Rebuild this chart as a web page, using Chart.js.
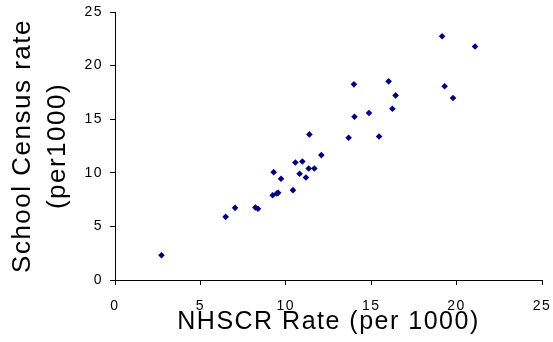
<!DOCTYPE html>
<html>
<head>
<meta charset="utf-8">
<script src="https://cdn.jsdelivr.net/npm/chart.js@4"></script>
<style>
  html, body { margin: 0; padding: 0; background: #ffffff; overflow: hidden; }
  #wrap { width: 553px; height: 342px; }
  canvas { display: block; }
</style>
</head>
<body>
<div id="wrap"><canvas id="c" width="553" height="342"></canvas></div>
<script>
const xValues = [2.72, 6.48, 7.03, 8.22, 8.37, 9.23, 9.47, 9.55, 9.29, 9.72,
                 10.42, 10.56, 10.81, 10.97, 11.18, 11.38, 11.34, 11.67, 12.08,
                 13.68, 13.99, 14.02, 14.87, 15.46, 16.02, 16.24, 16.43,
                 19.15, 19.30, 19.79, 21.08];
const yValues = [2.31, 5.89, 6.73, 6.76, 6.64, 7.91, 8.07, 8.13, 10.06, 9.44,
                 8.38, 10.96, 9.91, 11.06, 9.56, 13.58, 10.40, 10.40, 11.65,
                 13.27, 18.25, 15.23, 15.58, 13.39, 18.53, 15.98, 17.22,
                 22.74, 18.07, 16.98, 21.78];
const xTicks = [0, 5, 10, 15, 20, 25];
const yTicks = [0, 5, 10, 15, 20, 25];
const xTitle = 'NHSCR Rate (per 1000)';
const yTitle = ['School Census rate', '(per1000)'];

const points = xValues.map((x, i) => ({ x: x, y: yValues[i] }));
const FONT = 'Arial, "Liberation Sans", sans-serif';

const spacingPlugin = {
  id: 'spacing',
  beforeDraw(chart) { chart.ctx.letterSpacing = '1.5px'; }
};

function zeroPad(s) {
  s.paddingTop = 0; s.paddingBottom = 0; s.paddingLeft = 0; s.paddingRight = 0;
}

new Chart(document.getElementById('c'), {
  type: 'scatter',
  data: {
    datasets: [{
      data: points,
      pointStyle: 'rectRot',
      pointRadius: 3.3,
      pointBorderWidth: 0,
      backgroundColor: '#000080',
      borderColor: '#000080'
    }]
  },
  plugins: [spacingPlugin],
  options: {
    responsive: false,
    animation: false,
    events: [],
    layout: { autoPadding: false, padding: { top: 12, right: 11, left: 0, bottom: 0 } },
    plugins: { legend: { display: false }, tooltip: { enabled: false } },
    scales: {
      x: {
        type: 'linear',
        min: xTicks[0], max: xTicks[xTicks.length - 1],
        afterBuildTicks: s => { s.ticks = xTicks.map(v => ({ value: v })); },
        afterFit: s => { s.height = 62; zeroPad(s); },
        border: { display: true, color: '#000000', width: 1 },
        grid: { drawOnChartArea: false, drawTicks: true, tickLength: 5, color: '#000000' },
        ticks: { color: '#000000', font: { family: FONT, size: 14 }, padding: 13, maxRotation: 0 },
        title: { display: true, text: xTitle, color: '#000000',
                 font: { family: FONT, size: 25, lineHeight: 1.2 }, padding: { top: 0, bottom: 5 } }
      },
      y: {
        type: 'linear',
        min: yTicks[0], max: yTicks[yTicks.length - 1],
        afterBuildTicks: s => { s.ticks = yTicks.map(v => ({ value: v })); },
        afterFit: s => { s.width = 115; zeroPad(s); },
        border: { display: true, color: '#000000', width: 1 },
        grid: { drawOnChartArea: false, drawTicks: true, tickLength: 5, color: '#000000' },
        ticks: { color: '#000000', font: { family: FONT, size: 14 }, padding: 7 },
        title: { display: true, text: yTitle, color: '#000000',
                 font: { family: FONT, size: 26, lineHeight: 1.35 }, padding: { top: 5, bottom: 0 } }
      }
    }
  }
});
</script>
</body>
</html>
